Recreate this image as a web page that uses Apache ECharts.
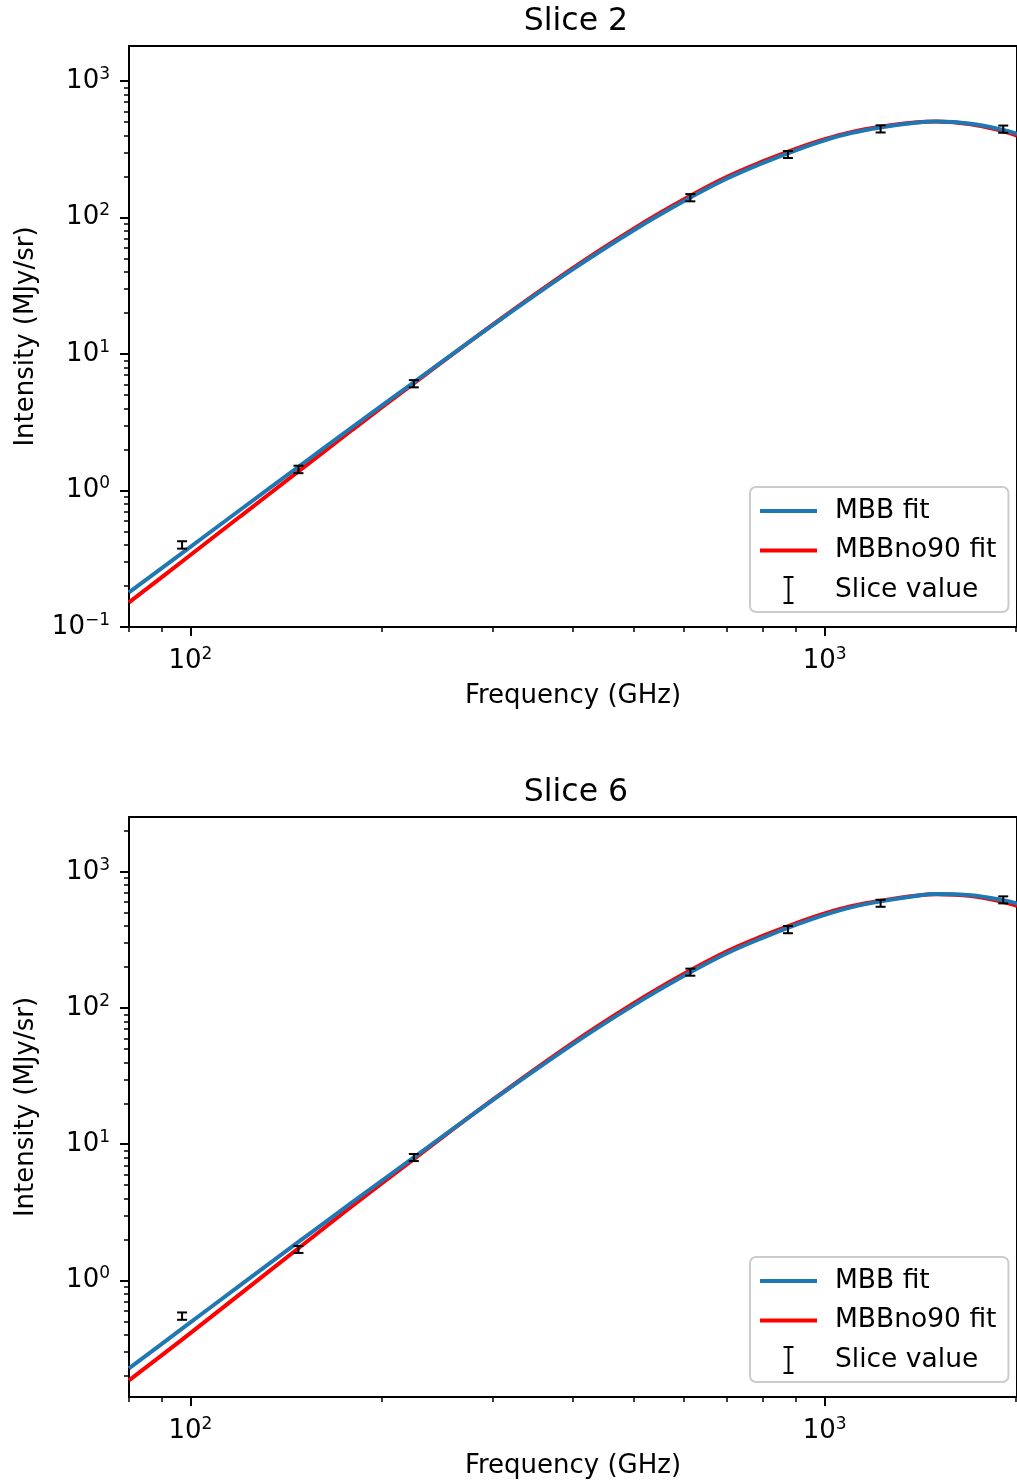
<!DOCTYPE html>
<html>
<head>
<meta charset="utf-8">
<script src="https://cdn.jsdelivr.net/npm/echarts@6/dist/echarts.min.js"></script>
<style>
  html, body { margin: 0; padding: 0; background: #fff; }
  #main { width: 1017px; height: 1481px; }
</style>
</head>
<body>
<div id="main"></div>
<script>
var curveFreq = [80, 97, 120, 148, 180, 225, 300, 400, 500, 600, 700, 800, 900, 1000, 1100, 1225, 1400, 1500, 1700, 1912, 2010];

// Slice 2
var s2Mbb  = [0.1791, 0.3483, 0.7261, 1.493, 2.917, 6.209, 16.37, 41.50, 80.72, 132.1, 192.3, 251.8, 311.2, 368.1, 415.9, 457.1, 496.6, 504.7, 487.5, 438.5, 411.1];
var s2No90 = [0.1514, 0.3020, 0.6501, 1.380, 2.786, 6.095, 16.52, 42.46, 82.99, 136.1, 198.2, 258.8, 319.2, 375.8, 422.7, 462.4, 498.9, 504.7, 483.1, 428.5, 398.6];
// Slice 6
var s6Mbb  = [0.2254, 0.4416, 0.9268, 1.914, 3.750, 7.998, 21.18, 53.95, 105.2, 172.6, 251.8, 329.6, 408.3, 484.2, 549.5, 608.1, 669.9, 688.7, 674.5, 619.4, 584.8];
var s6No90 = [0.1841, 0.3673, 0.7998, 1.722, 3.516, 7.780, 21.33, 55.34, 108.6, 178.6, 260.6, 340.4, 419.8, 495.5, 559.8, 615.2, 671.4, 685.5, 665.3, 602.6, 564.9];

// measured slice values and their errors
var pointFreq = [97, 148, 225, 614, 875, 1225, 1912];
var s2Val = [0.40, 1.43, 6.07, 140, 290, 447, 445];
var s2Err = [0.025, 0.09, 0.37, 8.5, 17, 27, 27];
var s6Val = [0.547, 1.69, 8.0, 184, 378, 590, 625];
var s6Err = [0.034, 0.10, 0.48, 11, 23, 35, 37];

var xMajor = [100, 1000];
var xMinor = [80, 90, 200, 300, 400, 500, 600, 700, 800, 900, 2000];
var yMajor = [0.1, 1, 10, 100, 1000];
var yMinor = [0.2, 0.3, 0.4, 0.5, 0.6, 0.7, 0.8, 0.9, 2, 3, 4, 5, 6, 7, 8, 9,
              20, 30, 40, 50, 60, 70, 80, 90, 200, 300, 400, 500, 600, 700, 800, 900, 2000];

var FONT = 'DejaVu Sans';
var myChart = echarts.init(document.getElementById('main'), null, {renderer: 'canvas'});

function powLabel(v) {
    var e = Math.round(Math.log10(v));
    var s = e < 0 ? '\u2212' + (-e) : String(e);
    return '{b|10}{s|' + s + '}';
}
var labelRich = {
    b: {fontFamily: FONT, fontSize: 26, color: '#000'},
    s: {fontFamily: FONT, fontSize: 17, color: '#000', padding: [0, 0, 13, 0]}
};

function zip(xs, ys) {
    return xs.map(function (x, i) { return [x, ys[i]]; });
}
function errData(vals, errs) {
    return pointFreq.map(function (f, i) { return [f, vals[i] - errs[i], vals[i] + errs[i]]; });
}

function renderErr(params, api) {
    var lo = api.coord([api.value(0), api.value(1)]);
    var hi = api.coord([api.value(0), api.value(2)]);
    var w = 5;
    var st = {stroke: '#000', lineWidth: 2};
    return {
        type: 'group',
        children: [
            {type: 'line', shape: {x1: lo[0], y1: lo[1], x2: hi[0], y2: hi[1]}, style: st},
            {type: 'line', shape: {x1: lo[0] - w, y1: lo[1], x2: lo[0] + w, y2: lo[1]}, style: st},
            {type: 'line', shape: {x1: hi[0] - w, y1: hi[1], x2: hi[0] + w, y2: hi[1]}, style: st}
        ]
    };
}

var grids = [
    {top: 46, height: 581, yMin: 0.1, yMax: 1807, title: 'Slice 2', mbb: s2Mbb, no90: s2No90, val: s2Val, err: s2Err},
    {top: 817, height: 580, yMin: 0.139, yMax: 2535, title: 'Slice 6', mbb: s6Mbb, no90: s6No90, val: s6Val, err: s6Err}
];

option = {
    animation: false,
    backgroundColor: '#fff',
    grid: [],
    xAxis: [],
    yAxis: [],
    legend: [],
    graphic: [],
    series: []
};

// icons: two tiny anchors keep the box 57x30 so the marks sit where they should
var anchors = 'path://M0,0h0.01v0.01h-0.01z M57,30h-0.01v-0.01h0.01z ';
var lineIcon = anchors + 'M0,13h57v4h-57z';
var errIcon = anchors + 'M23.5,1h10v2h-4v24h4v2h-10v-2h4v-24h-4z';

grids.forEach(function (g, i) {
    option.grid.push({
        left: 129, top: g.top, right: -6, height: g.height,
        show: true, borderColor: '#000', borderWidth: 2, backgroundColor: 'transparent'
    });
    // major x axis with labels
    option.xAxis.push({
        type: 'log', gridIndex: i, min: 80, max: 2010, position: 'bottom',
        name: 'Frequency (GHz)', nameLocation: 'middle', nameGap: 56,
        nameTextStyle: {fontFamily: FONT, fontSize: 26, color: '#000'},
        axisLine: {show: true, lineStyle: {color: '#000', width: 2}},
        axisTick: {show: true, customValues: xMajor, length: 9, lineStyle: {color: '#000', width: 2}},
        axisLabel: {show: true, customValues: xMajor, margin: 19, formatter: powLabel, rich: labelRich},
        splitLine: {show: false}
    });
    // minor x ticks
    option.xAxis.push({
        type: 'log', gridIndex: i, min: 80, max: 2010, position: 'bottom',
        axisLine: {show: false},
        axisTick: {show: true, customValues: xMinor, length: 5, lineStyle: {color: '#000', width: 1.5}},
        axisLabel: {show: false},
        splitLine: {show: false}
    });
    option.yAxis.push({
        type: 'log', gridIndex: i, min: g.yMin, max: g.yMax, position: 'left',
        name: 'Intensity (MJy/sr)', nameLocation: 'middle', nameGap: 90,
        nameTextStyle: {fontFamily: FONT, fontSize: 26, color: '#000'},
        axisLine: {show: true, lineStyle: {color: '#000', width: 2}},
        axisTick: {show: true, customValues: yMajor, length: 9, lineStyle: {color: '#000', width: 2}},
        axisLabel: {show: true, customValues: yMajor, margin: 19, formatter: powLabel, rich: labelRich},
        splitLine: {show: false}
    });
    option.yAxis.push({
        type: 'log', gridIndex: i, min: g.yMin, max: g.yMax, position: 'left',
        axisLine: {show: false},
        axisTick: {show: true, customValues: yMinor, length: 5, lineStyle: {color: '#000', width: 1.5}},
        axisLabel: {show: false},
        splitLine: {show: false}
    });

    option.graphic.push({
        type: 'text', x: 576, y: g.top - 24,
        style: {text: g.title, fontFamily: FONT, fontSize: 31.5, fill: '#000', textAlign: 'center', textVerticalAlign: 'middle'}
    });

    option.legend.push({
        orient: 'vertical', left: 750, top: g.top + g.height - 140,
        itemWidth: 57, itemHeight: 30, itemGap: 9.5,
        padding: [9, 12, 7, 10],
        backgroundColor: 'rgba(255,255,255,0.8)', borderColor: '#cccccc', borderWidth: 2, borderRadius: 6,
        textStyle: {fontFamily: FONT, fontSize: 26.5, color: '#000', lineHeight: 30, padding: [0, 0, 0, 13]},
        selectedMode: false,
        data: [
            {name: 'MBB fit', icon: lineIcon},
            {name: 'MBBno90 fit', icon: lineIcon},
            {name: 'Slice value', icon: errIcon}
        ]
    });

    var xi = i * 2, yi = i * 2;
    option.series.push({
        name: 'MBBno90 fit', type: 'line', xAxisIndex: xi, yAxisIndex: yi,
        data: zip(curveFreq, g.no90), smooth: 0.4, symbol: 'none', z: 2,
        lineStyle: {color: '#ff0000', width: 4}, itemStyle: {color: '#ff0000'}
    });
    option.series.push({
        name: 'MBB fit', type: 'line', xAxisIndex: xi, yAxisIndex: yi,
        data: zip(curveFreq, g.mbb), smooth: 0.4, symbol: 'none', z: 3,
        lineStyle: {color: '#1f77b4', width: 4}, itemStyle: {color: '#1f77b4'}
    });
    option.series.push({
        name: 'Slice value', type: 'custom', xAxisIndex: xi, yAxisIndex: yi,
        data: errData(g.val, g.err), renderItem: renderErr, z: 4,
        encode: {x: 0, y: [1, 2]}, itemStyle: {color: '#000'}
    });
});

myChart.setOption(option);
</script>
</body>
</html>
